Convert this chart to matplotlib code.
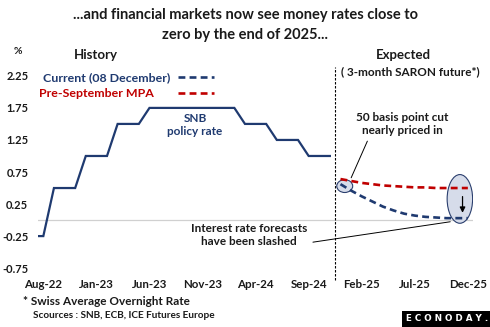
import matplotlib.pyplot as plt
import numpy as np
from matplotlib.patches import Ellipse

# month index 0 = Aug-22
policy_months = np.arange(-1, 28)
policy_rate = [-0.25, -0.25, 0.5, 0.5, 0.5, 1.0, 1.0, 1.0, 1.5, 1.5, 1.5,
               1.75, 1.75, 1.75, 1.75, 1.75, 1.75, 1.75, 1.75, 1.75,
               1.5, 1.5, 1.5, 1.25, 1.25, 1.25, 1.0, 1.0, 1.0]

# SARON futures implied path, Dec-24 .. Dec-25
fwd_months = np.arange(28, 41)
current_fwd = [0.56, 0.46, 0.37, 0.29, 0.21, 0.15, 0.10, 0.07, 0.05, 0.04, 0.03, 0.03, 0.03]
pre_sept_fwd = [0.64, 0.61, 0.58, 0.56, 0.54, 0.53, 0.52, 0.51, 0.51, 0.50, 0.50, 0.50, 0.50]

tick_pos = np.arange(0, 41, 5)
tick_labels = ['Aug-22', 'Jan-23', 'Jun-23', 'Nov-23', 'Apr-24', 'Sep-24', 'Feb-25', 'Jul-25', 'Dec-25']
y_ticks = [2.25, 1.75, 1.25, 0.75, 0.25, -0.25, -0.75]

navy = '#1f3a70'
red = '#c00000'
txt = '#1a1a1a'

plt.rcParams['font.family'] = ['Lato', 'DejaVu Sans']
plt.rcParams['font.weight'] = 'bold'

fig = plt.figure(figsize=(4.9, 3.27), dpi=100)
ax = fig.add_axes([0.0776, 0.180, 0.888, 0.588])

ax.plot(policy_months, policy_rate, color=navy, lw=1.6, solid_joinstyle='miter')
l1, = ax.plot(fwd_months, current_fwd, color=navy, lw=1.9, dashes=(2.6, 1.6))
l2, = ax.plot(fwd_months, pre_sept_fwd, color=red, lw=1.9, dashes=(2.6, 1.6))

ax.axhline(0, color='#d0d0d0', lw=0.9, zorder=0)
ax.axvline(27.45, ymin=-0.063, ymax=1.047, color='black', lw=0.8,
           dashes=(2.2, 1.4), clip_on=False)

ax.set_xlim(-0.5, 40.5)
ax.set_ylim(-0.75, 2.25)
ax.set_xticks(tick_pos)
ax.set_xticklabels(tick_labels)
ax.set_yticks(y_ticks)
ax.set_yticklabels([f'{v:.2f}' for v in y_ticks])
ax.tick_params(length=0, labelsize=8, colors=txt, pad=7)
ax.tick_params(axis='x', pad=8, labelsize=8.3)
for s in ax.spines.values():
    s.set_visible(False)

# one legend per series so the keys line up on the right
for line, label, c, ypos, gap in [(l1, 'Current (08 December)', navy, 0.761, 0.6),
                                  (l2, 'Pre-September MPA', red, 0.713, 1.9)]:
    leg = fig.legend([line], [label], loc='center right',
                     bbox_to_anchor=(0.437, ypos), bbox_transform=fig.transFigure,
                     frameon=False, markerfirst=False, handlelength=2.95,
                     handletextpad=gap, fontsize=8.9, borderaxespad=0, borderpad=0)
    leg.get_texts()[0].set_color(c)

ax.text(14.3, 1.48, 'SNB\npolicy rate', color=navy, fontsize=8.5,
        ha='center', va='center', linespacing=1.2)

# highlight rings
ax.add_patch(Ellipse((28.4, 0.53), 1.5, 0.2, facecolor='#d6dcea',
                     edgecolor='#2b3f6e', lw=0.8, zorder=1))
ax.add_patch(Ellipse((39.25, 0.33), 2.4, 0.76, facecolor='#d6dcea',
                     edgecolor='#2b3f6e', lw=0.8, zorder=1))
ax.annotate('', xy=(39.5, 0.07), xytext=(39.5, 0.41),
            arrowprops=dict(arrowstyle='-|>', color='black', lw=0.9,
                            mutation_scale=8))

ax.annotate('50 basis point cut\nnearly priced in', xy=(28.9, 0.62),
            xytext=(33.8, 1.5), ha='center', va='center', fontsize=8.5,
            color=txt, linespacing=1.2,
            arrowprops=dict(arrowstyle='-', color='black', lw=0.7,
                            relpos=(0.15, 0.0)))
ax.annotate('Interest rate forecasts\nhave been slashed', xy=(38.6, -0.02),
            xytext=(19.4, -0.23), ha='center', va='center', fontsize=8.5,
            color=txt, linespacing=1.2,
            arrowprops=dict(arrowstyle='-', color='black', lw=0.7,
                            relpos=(0.95, 0.12)))

fig.text(0.5, 0.953, '...and financial markets now see money rates close to',
         ha='center', va='center', fontsize=10.5, color=txt)
fig.text(0.5, 0.893, 'zero by the end of 2025...', ha='center', va='center',
         fontsize=10.5, color=txt)
fig.text(0.027, 0.843, '%', fontsize=7.5, color=txt, va='center')
fig.text(0.196, 0.832, 'History', ha='center', va='center', fontsize=9.5, color=txt)
fig.text(0.823, 0.832, 'Expected', ha='center', va='center', fontsize=9.5, color=txt)
fig.text(0.838, 0.780, '( 3-month SARON future*)', ha='center', va='center',
         fontsize=8.5, color=txt)

fig.text(0.047, 0.077, '* Swiss Average Overnight Rate', va='center',
         fontsize=8.5, color=txt)
fig.text(0.067, 0.034, 'Scources : SNB, ECB, ICE Futures Europe', va='center',
         fontsize=7.2, color=txt)
fig.text(0.912, 0.0245, 'E C O N O D A Y .', ha='center', va='center', fontsize=6.3,
         color='white', family='DejaVu Sans', fontweight='heavy',
         bbox=dict(boxstyle='square,pad=0.45', facecolor='black', edgecolor='none'))

fig.savefig('out.png', dpi=100)
